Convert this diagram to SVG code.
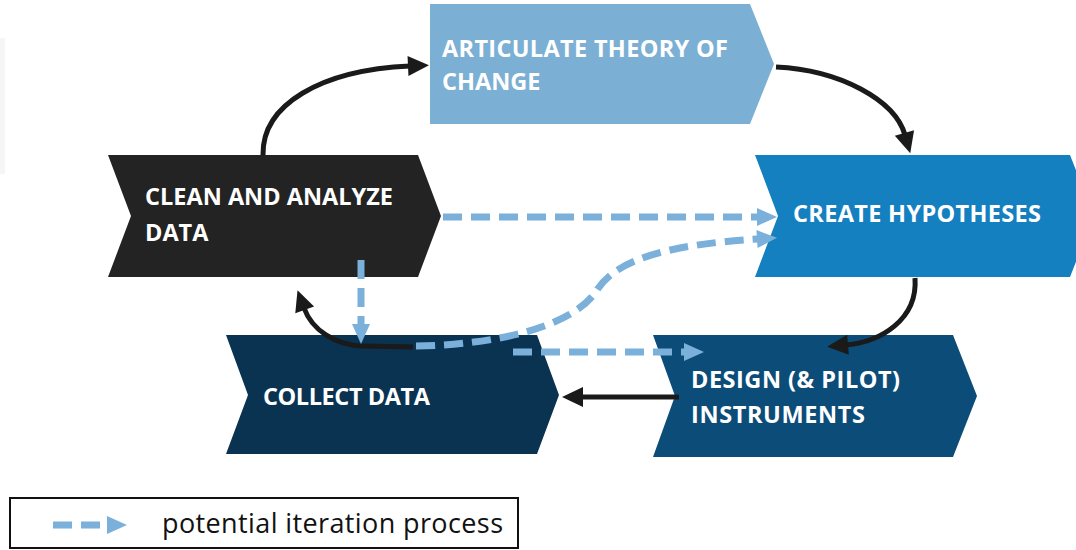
<svg xmlns="http://www.w3.org/2000/svg" width="1076" height="550" viewBox="0 0 1076 550">
<style>
.lbl{font-family:"Open Sans","Liberation Sans",sans-serif;font-weight:700;font-size:23.5px;fill:#ffffff}
.leg{font-family:"Open Sans","Liberation Sans",sans-serif;font-weight:400;font-size:27px;fill:#111111}
.blk{fill:none;stroke:#1a1a1a;stroke-width:5;stroke-linecap:butt}
.dsh{fill:none;stroke:#7AB0DA;stroke-width:7;stroke-dasharray:19 9}
</style>
<defs>
<marker id="ab" markerUnits="userSpaceOnUse" markerWidth="24" markerHeight="22" refX="2" refY="10" orient="auto" overflow="visible">
<path d="M0,0 L21,10 L0,20 Z" fill="#1a1a1a"/>
</marker>
<marker id="ad" markerUnits="userSpaceOnUse" markerWidth="24" markerHeight="22" refX="1" refY="9" orient="auto" overflow="visible">
<path d="M0,0 L20,9 L0,18 Z" fill="#7AB0DA"/>
</marker>
</defs>
<rect x="0" y="38" width="5" height="136" fill="#f6f6f6"/>
<g id="articulate">
<polygon points="430,4 750,4 774,64 750,124 430,124" fill="#7BAFD4"/>
<text class="lbl" x="442" y="57" textLength="286">ARTICULATE THEORY OF</text>
<text class="lbl" x="442" y="90">CHANGE</text>
</g>
<g id="clean">
<polygon points="108,155 418,155 441,216 418,277 108,277 131,216" fill="#232323"/>
<text class="lbl" x="145" y="205" textLength="248">CLEAN AND ANALYZE</text>
<text class="lbl" x="145" y="241">DATA</text>
</g>
<g id="create">
<polygon points="755,155 1070,155 1094,216 1070,277 755,277 778,216" fill="#1580C0"/>
<text class="lbl" x="793" y="222" textLength="248">CREATE HYPOTHESES</text>
</g>
<g id="collect">
<polygon points="226,335 537,335 559,395 537,454 226,454 248,395" fill="#0A3352"/>
<text class="lbl" x="263" y="405" textLength="167">COLLECT DATA</text>
</g>
<g id="design">
<polygon points="653,335 953,335 977,396 953,457 653,457 675,396" fill="#0C4C78"/>
<text class="lbl" x="691" y="388" textLength="209">DESIGN (&amp; PILOT)</text>
<text class="lbl" x="691" y="423" textLength="174">INSTRUMENTS</text>
</g>
<g id="connectors">
<path class="blk" d="M263,155 C262,105 320,70 410,66" marker-end="url(#ab)"/>
<path class="blk" d="M776,67 C840,70 895,100 905,135" marker-end="url(#ab)"/>
<path class="blk" d="M915,278 C918,320 880,342 846,345" marker-end="url(#ab)"/>
<path class="blk" d="M679,397 L581,397" marker-end="url(#ab)"/>
<path class="blk" d="M413,347 L362,346 C335,345 312,330 304,308" marker-end="url(#ab)"/>
<path class="dsh" d="M443,217 L758,217" marker-end="url(#ad)"/>
<path class="dsh" d="M361,260 L361,325" marker-end="url(#ad)"/>
<path class="dsh" d="M416,346 C500,345 575,325 597,290 C615,262 660,245 758,239" marker-end="url(#ad)"/>
<path class="dsh" d="M513,352 L685,352" marker-end="url(#ad)"/>
</g>
<g id="legend">
<rect x="10" y="498" width="508" height="50" fill="#ffffff" stroke="#111111" stroke-width="2"/>
<path class="dsh" d="M53,525 L108,525" stroke-dasharray="20 9" marker-end="url(#ad)"/>
<text class="leg" x="162" y="533" textLength="341">potential iteration process</text>
</g>
</svg>
